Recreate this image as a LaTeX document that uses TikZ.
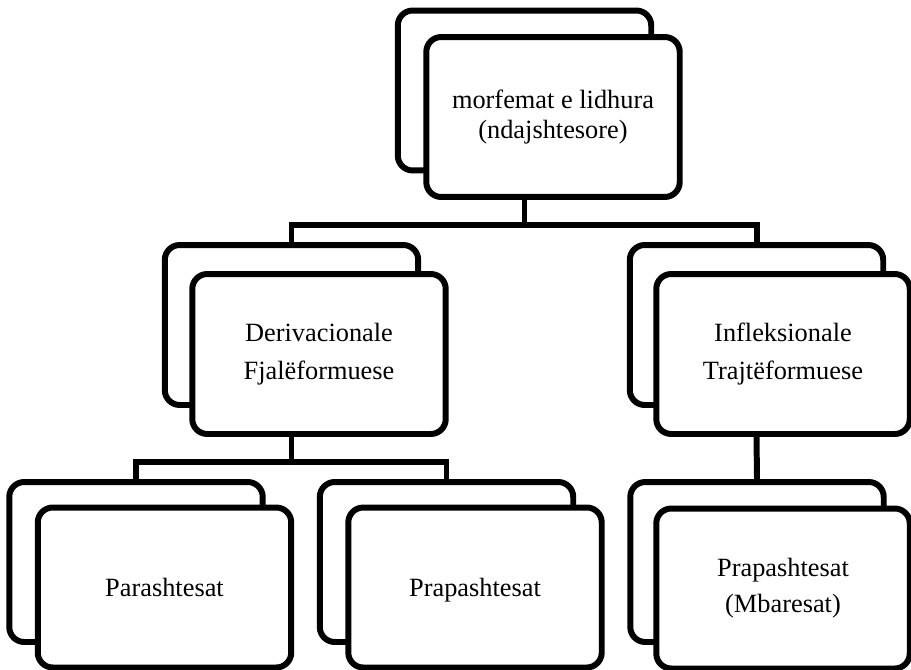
\documentclass[tikz,border=0pt]{standalone}
\usepackage{fontspec}
\setmainfont{Liberation Serif}
\usepackage{tikz}
\usetikzlibrary{positioning, calc}

\tikzset{
    backbox/.style={draw, line width=3.4pt, rounded corners=8.5pt, fill=white,
        minimum width=5.07cm, minimum height=3.2cm},
    frontbox/.style={backbox, align=center, font=\fontsize{15}{17.6}\selectfont},
    conn/.style={line width=3.4pt},
}

\begin{document}
\begin{tikzpicture}[x=0.02cm, y=-0.02cm]
    \useasboundingbox (0, 0) rectangle (911, 669);
    % top level
    \node[backbox] (topb) at (524.5, 90.5) {};
    \node[frontbox] (top) at (553, 117) {morfemat e lidhura\\(ndajshtesore)};
    % middle level
    \node[backbox] (derb) at (291.5, 325) {};
    \node[frontbox] (der) at (319, 354) {Derivacionale\\[4pt]Fjalëformuese};
    \node[backbox] (infb) at (756.5, 325) {};
    \node[frontbox] (inf) at (783, 354) {Infleksionale\\[4pt]Trajtëformuese};
    % bottom level
    \node[backbox] (parb) at (136, 562) {};
    \node[frontbox, text depth=0pt] (par) at (164.5, 587.5) {Parashtesat};
    \node[backbox] (prab) at (446.5, 562) {};
    \node[frontbox, text depth=0pt] (pra) at (475, 587.5) {Prapashtesat};
    \node[backbox] (mbab) at (757, 562) {};
    \node[frontbox] (mba) at (783, 588.5) {Prapashtesat\\[3pt](Mbaresat)};
    % connectors
    \draw[conn] (topb |- top.south) -- ++(0, 25) coordinate (j1);
    \draw[conn] (derb.north) |- (j1) -| (infb.north);
    \draw[conn] (derb |- der.south) -- ++(0, 25) coordinate (j2);
    \draw[conn] (parb.north) |- (j2) -| (prab.north);
    \draw[conn] (infb |- inf.south) -- (mbab.north);
\end{tikzpicture}
\end{document}
